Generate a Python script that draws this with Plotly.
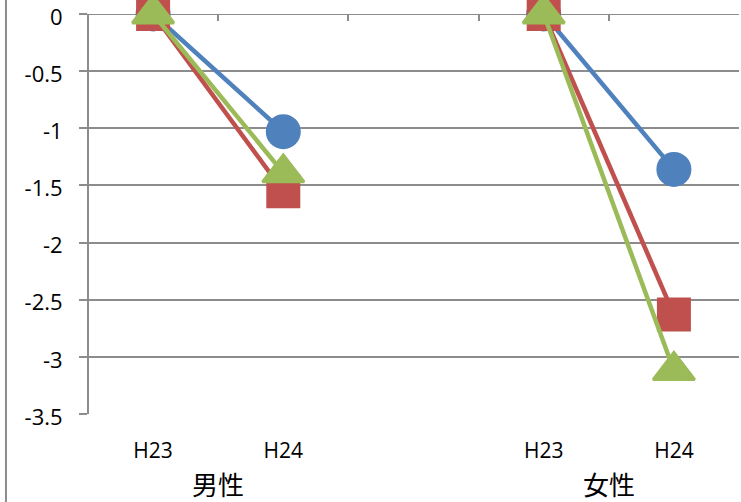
import plotly.graph_objects as go

# Data: change from H23 to H24, by sex
groups = ["男性", "女性"]
periods = ["H23", "H24"]
series_names = ["系列1", "系列2", "系列3"]
series_male = [[0, -1.03], [0, -1.55], [0, -1.39]]
series_female = [[0, -1.36], [0, -2.63], [0, -3.12]]
y_ticks = [0, -0.5, -1, -1.5, -2, -2.5, -3, -3.5]
y_tick_text = ["0", "-0.5", "-1", "-1.5", "-2", "-2.5", "-3", "-3.5"]

colors = ["#4F81BD", "#C0504D", "#9BBB59"]
symbols = ["circle", "square", "triangle-up"]
sizes = [32, 31, 36]

GRID = "#8C8C8C"
FONT = "Open Sans, Noto Sans CJK JP, sans-serif"

# category slots: each group takes len(periods) slots plus one empty slot
slot = len(periods) + 1
x_pos = []
x_text = []
for g in range(len(groups)):
    for p in range(len(periods)):
        x_pos.append(g * slot + p)
        x_text.append(periods[p])
n_slots = len(groups) * slot - 1

fig = go.Figure()
for i, name in enumerate(series_names):
    xs, ys = [], []
    for g, vals in enumerate([series_male[i], series_female[i]]):
        if g > 0:
            xs.append(None)
            ys.append(None)
        for p, v in enumerate(vals):
            xs.append(g * slot + p)
            ys.append(v)
    fig.add_trace(go.Scatter(
        x=xs, y=ys, name=name, mode="lines+markers",
        connectgaps=False, cliponaxis=False,
        line=dict(color=colors[i], width=4.5),
        marker=dict(symbol=symbols[i], size=sizes[i], color=colors[i],
                    line=dict(color=colors[i], width=3)),
        showlegend=False,
    ))

# group labels under the period labels
for g, name in enumerate(groups):
    fig.add_annotation(
        x=g * slot + (len(periods) - 1) / 2, y=-0.178,
        xref="x", yref="paper", text=name, showarrow=False,
        font=dict(family=FONT, size=26, color="#000000"),
        xanchor="center", yanchor="middle",
    )

# left border of the chart area
fig.add_shape(type="line", xref="paper", yref="paper",
              x0=-0.126, x1=-0.126, y0=-0.3, y1=1.1,
              line=dict(color=GRID, width=2))

# top gridline (value axis maximum)
fig.add_shape(type="line", xref="paper", yref="y",
              x0=0, x1=1, y0=0, y1=0, layer="below",
              line=dict(color=GRID, width=2))

fig.update_layout(
    width=741, height=502,
    margin=dict(l=88, r=2, t=14, b=88),
    paper_bgcolor="white", plot_bgcolor="rgba(0,0,0,0)",
    font=dict(family=FONT, size=22, color="#000000"),
    xaxis=dict(
        range=[-0.5, n_slots - 0.5], tickvals=x_pos, ticktext=x_text,
        showgrid=False, zeroline=False, showline=False, ticks="",
        tickfont=dict(size=21), ticklabelstandoff=22, automargin=False,
    ),
    xaxis2=dict(
        range=[-0.5, n_slots - 0.5], overlaying="x", side="top",
        tickvals=[k + 0.5 for k in range(n_slots)],
        showticklabels=False, ticks="inside", ticklen=7, tickwidth=2,
        tickcolor=GRID, showgrid=False, zeroline=False, showline=False,
        automargin=False,
    ),
    yaxis=dict(
        range=[-3.5, 0], tickvals=y_ticks, ticktext=y_tick_text,
        showgrid=True, gridcolor=GRID, gridwidth=2,
        zeroline=False, showline=False,
        ticks="outside", ticklen=8, tickwidth=2, tickcolor=GRID,
        tickfont=dict(size=22), ticklabelstandoff=12, ticklabelshift=3,
        ticklabeloverflow="allow", automargin=False,
    ),
)
# left value-axis line
fig.add_shape(type="line", xref="paper", yref="y",
              x0=0, x1=0, y0=-3.5, y1=0,
              line=dict(color=GRID, width=2))

# invisible trace to activate the top axis
fig.add_trace(go.Scatter(x=[0], y=[0], xaxis="x2", mode="markers",
                         marker=dict(opacity=0), showlegend=False,
                         hoverinfo="skip"))

fig.write_html("out.html")
